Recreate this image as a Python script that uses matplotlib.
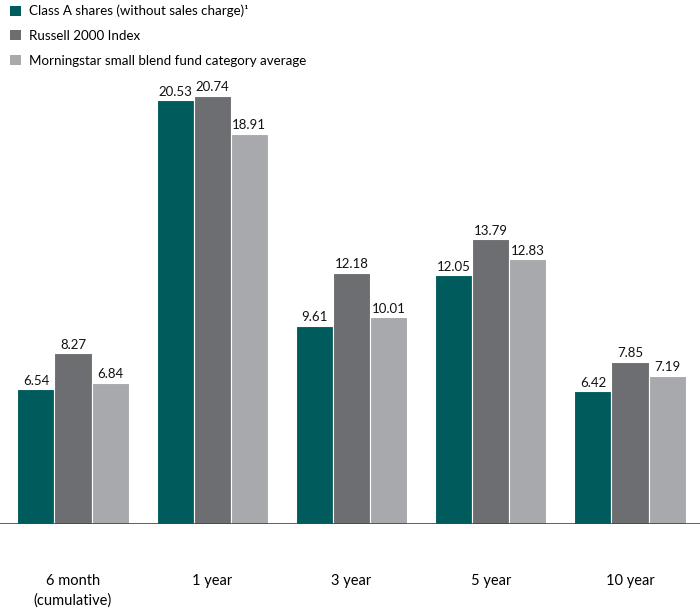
import matplotlib.pyplot as plt
import numpy as np
from matplotlib.patches import Patch

categories = ["6 month\n(cumulative)", "1 year", "3 year", "5 year", "10 year"]
class_a = [6.54, 20.53, 9.61, 12.05, 6.42]
russell = [8.27, 20.74, 12.18, 13.79, 7.85]
morningstar = [6.84, 18.91, 10.01, 12.83, 7.19]
series_names = ["Class A shares (without sales charge)\u00b9",
                "Russell 2000 Index",
                "Morningstar small blend fund category average"]
colors = ["#005b5d", "#6d6e71", "#a7a9ac"]

W, H = 700, 608
fig = plt.figure(figsize=(W / 100, H / 100), dpi=100)
# axes: baseline at y=524px, top at y=75px
ax = fig.add_axes([0, (H - 524) / H, 1, (524 - 75) / H])

x = np.arange(len(categories))
width = 0.266
for i, (vals, c) in enumerate(zip([class_a, russell, morningstar], colors)):
    bars = ax.bar(x + (i - 1) * width, vals, width, color=c, edgecolor="white", linewidth=0.8)
    for b, v in zip(bars, vals):
        ax.text(b.get_x() + b.get_width() / 2, v + 0.12, f"{v:.2f}", ha="center", va="bottom",
                fontsize=9.5, family="Lato", color="#111111")

ax.set_xlim(-73 / 139.25, (700 - 73) / 139.25)
ax.set_ylim(0, 449 / 20.64)
ax.axhline(0, color="#444444", linewidth=1.2)
for s in ax.spines.values():
    s.set_visible(False)
ax.set_yticks([])
ax.set_xticks(x)
ax.set_xticklabels(categories, fontsize=10.5, family="Lato", linespacing=1.45)
ax.tick_params(axis="x", length=0, pad=36)

handles = [Patch(facecolor=c, edgecolor="none") for c in colors]
fig.legend(handles, series_names, loc="upper left", bbox_to_anchor=(-0.003, 1.012), frameon=False,
           prop={"family": "Lato", "size": 9.6}, handlelength=0.8, handleheight=0.8,
           handletextpad=0.6, labelspacing=0.95)

fig.savefig("out.png", dpi=100)
